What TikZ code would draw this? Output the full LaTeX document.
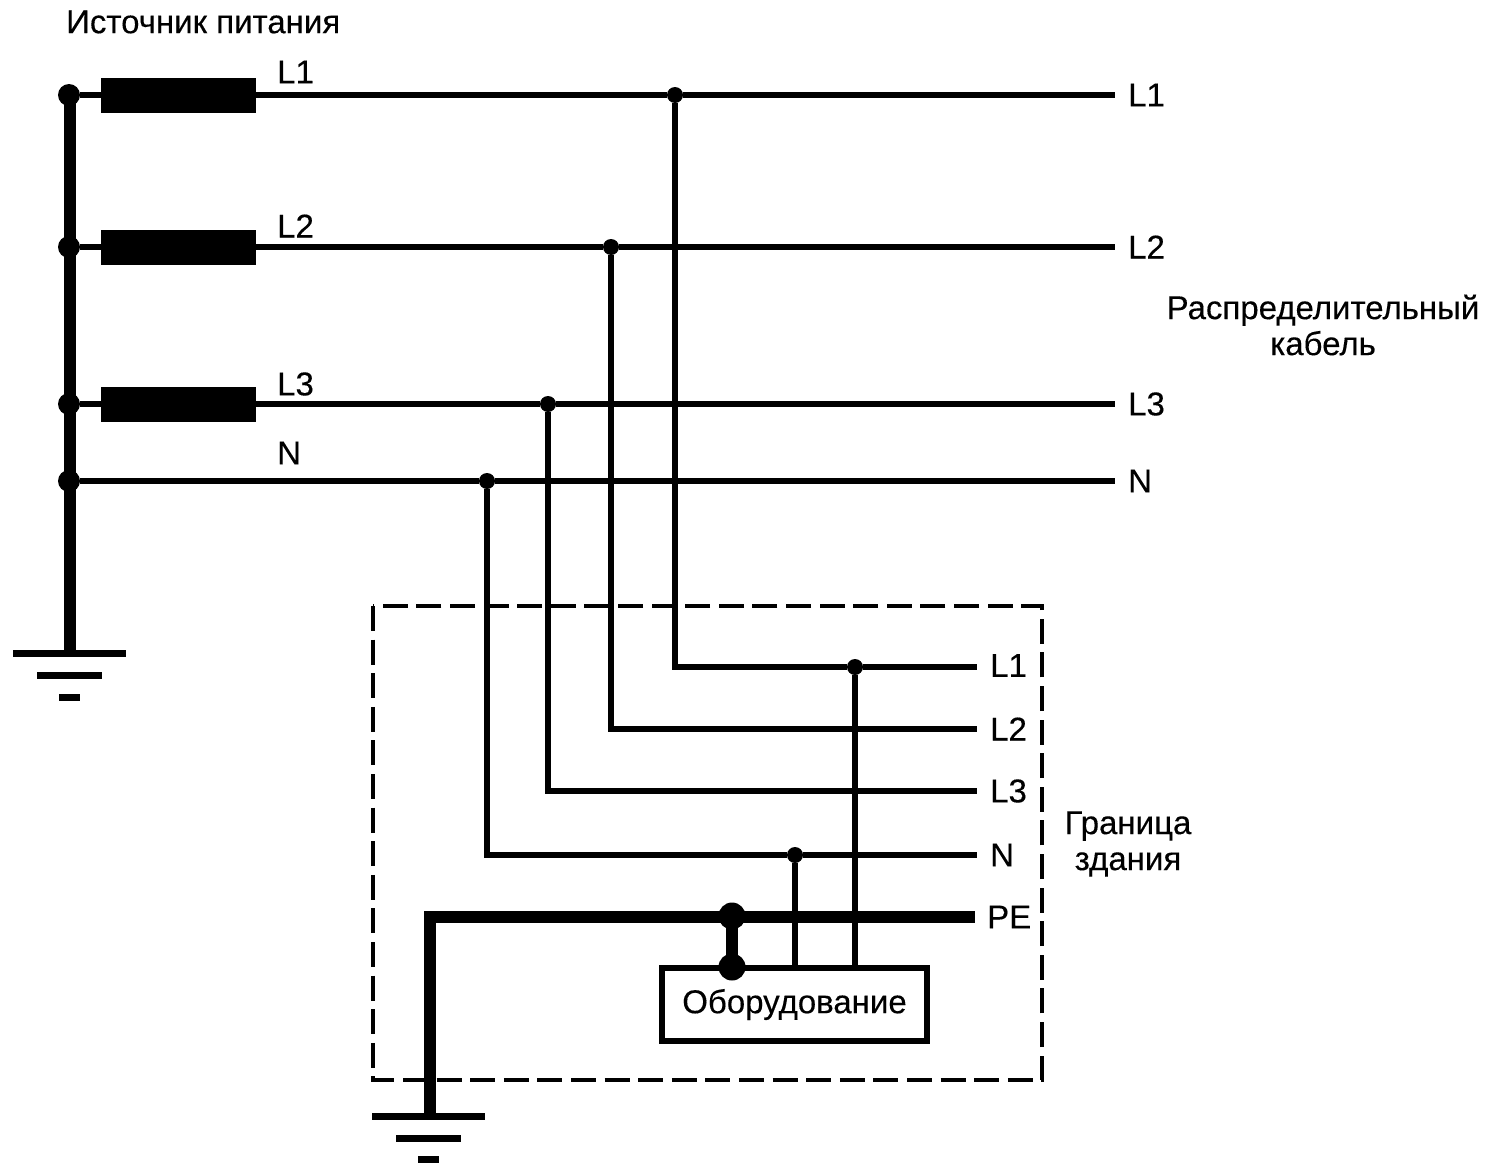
\documentclass[tikz,border=0pt]{standalone}
\usepackage{fontspec}
\setmainfont{Liberation Sans}[FakeBold=0.25]
\usetikzlibrary{positioning}
\tikzset{
    wire/.style={line width=6pt},
    busbar/.style={line width=12pt},
    bigdot/.style={circle,fill=black,inner sep=0pt,minimum size=22pt},
    smalldot/.style={circle,fill=black,inner sep=0pt,minimum size=16pt},
    pedot/.style={circle,fill=black,inner sep=0pt,minimum size=27pt},
    fuse/.style={rectangle,fill=black,inner sep=0pt,minimum width=155pt,minimum height=35pt},
    txt/.style={inner sep=0pt,font=\fontsize{33}{36}\selectfont,align=center},
    earthbar/.style={line width=7pt}
}
\begin{document}
\begin{tikzpicture}[x=1pt,y=-1pt]
    \useasboundingbox (0,0) rectangle (1488,1175);
    % source side
    \node[bigdot] (srcA) at (69,95) {};
    \node[bigdot] (srcB) at (69,247) {};
    \node[bigdot] (srcC) at (69,404) {};
    \node[bigdot] (srcN) at (69,481) {};
    \node[fuse] (fuseA) at (178.5,95) {};
    \node[fuse] (fuseB) at (178.5,247.5) {};
    \node[fuse] (fuseC) at (178.5,404.5) {};
    \coordinate (earthA) at (70,653.5);
    \draw[busbar] (earthA |- srcA) -- (earthA);
    % taps on the cable
    \node[smalldot] (tapA) at (675,95) {};
    \node[smalldot] (tapB) at (611,247) {};
    \node[smalldot] (tapC) at (548,404) {};
    \node[smalldot] (tapN) at (487,481) {};
    \coordinate (endA) at (1115,95);
    \coordinate (endB) at (1115,247);
    \coordinate (endC) at (1115,404);
    \coordinate (endN) at (1115,481);
    \draw[wire] (srcA) -- (fuseA) -- (tapA) -- (endA);
    \draw[wire] (srcB) -- (fuseB.west |- srcB) (fuseB.east |- srcB) -- (tapB) -- (endB);
    \draw[wire] (srcC) -- (fuseC.west |- srcC) (fuseC.east |- srcC) -- (tapC) -- (endC);
    \draw[wire] (srcN) -- (tapN) -- (endN);
    % building
    \draw[line width=3.5pt,dash pattern=on 25pt off 8.6pt] (373,606) rectangle (1042,1080);
    \coordinate (inA) at (977,667);
    \coordinate (inB) at (977,729);
    \coordinate (inC) at (977,791);
    \coordinate (inN) at (977,855);
    \coordinate (inPE) at (975,917);
    \coordinate (earthB) at (429.5,1116.5);
    \node[smalldot] (tapLA) at (855,667) {};
    \node[smalldot] (tapLN) at (795,855) {};
    \node[pedot] (tapPE) at (732,916) {};
    \node[draw,line width=6pt,minimum width=265pt,minimum height=73pt,inner sep=0pt,font=\fontsize{33}{36}\selectfont] (equip) at (794.5,1004.5) {Оборудование};
    \node[pedot] (equipPE) at (732,967) {};
    \draw[wire] (tapA) |- (tapLA) -- (inA);
    \draw[wire] (tapB) |- (inB);
    \draw[wire] (tapC) |- (inC);
    \draw[wire] (tapN) |- (tapLN) -- (inN);
    \draw[busbar] (earthB) |- (inPE);
    \draw[busbar] (tapPE.center) -- (equipPE.center);
    \draw[wire] (tapLN) -- (tapLN |- equip.north);
    \draw[wire] (tapLA) -- (tapLA |- equip.north);
    % earth symbols
    \draw[earthbar] (13,653.5) -- (126,653.5);
    \draw[earthbar] (37,675.5) -- (102,675.5);
    \draw[earthbar] (59,697) -- (80,697);
    \draw[earthbar] (372,1116.5) -- (485,1116.5);
    \draw[earthbar] (396,1138) -- (461,1138);
    \draw[earthbar] (418,1159) -- (439,1159);
    % labels
    \node[txt,anchor=west] (title) at (66,22) {Источник питания};
    \node[txt,anchor=west] (lblA) at (277,72) {L1};
    \node[txt,anchor=west] (lblB) at (277,226) {L2};
    \node[txt,anchor=west] (lblC) at (277,384) {L3};
    \node[txt,anchor=west] (lblN) at (277,453) {N};
    \node[txt,right=13pt of endA] (outA) {L1};
    \node[txt,right=13pt of endB] (outB) {L2};
    \node[txt,right=13pt of endC] (outC) {L3};
    \node[txt,right=13pt of endN] (outN) {N};
    \node[txt,right=13pt of inA,yshift=1.5pt] (inlblA) {L1};
    \node[txt,right=13pt of inB] (inlblB) {L2};
    \node[txt,right=13pt of inC] (inlblC) {L3};
    \node[txt,right=13pt of inN] (inlblN) {N};
    \node[txt,right=12pt of inPE] (inlblPE) {PE};
    \node[txt] (cable) at (1323,325) {Распределительный\\кабель};
    \node[txt] (border) at (1128,844) {Граница\\здания};
\end{tikzpicture}
\end{document}
